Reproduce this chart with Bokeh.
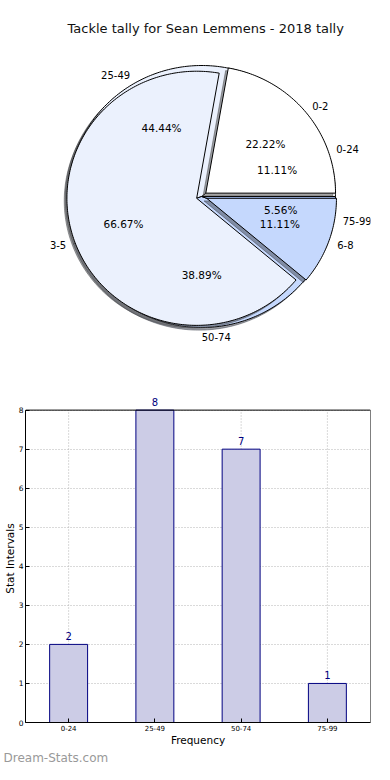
import numpy as np
from bokeh.plotting import figure
from bokeh.layouts import column
from bokeh.models import (Label, ColumnDataSource, FactorRange, Range1d, FixedTicker,
                          BoxAnnotation, Title)
from bokeh.core.properties import value
from bokeh.embed import file_html
from bokeh.resources import INLINE

# ---------------- data ----------------
TITLE = "Tackle tally for Sean Lemmens - 2018 tally"
interval_labels = ["0-24", "25-49", "50-74", "75-99"]
interval_counts = [2, 8, 7, 1]
stat_labels = ["0-2", "3-5", "6-8"]
stat_counts = [4, 12, 2]
y_ticks = [0, 1, 2, 3, 4, 5, 6, 7, 8]
X_LABEL = "Frequency"
Y_LABEL = "Stat Intervals"
WATERMARK = "Dream-Stats.com"

FONT = "DejaVu Sans"
PALETTE = ["#ffffff", "#ebf1fd", "#c5d8fd", "#a9c5fb"]


def shadow_color(hx):
    r, g, b = int(hx[1:3], 16), int(hx[3:5], 16), int(hx[5:7], 16)
    return "#%02x%02x%02x" % (int(r * 0.3), int(g * 0.3), int(b * 0.3))


def pie_geometry(counts, radius, explode):
    c = np.asarray(counts, dtype=float)
    fr = c / c.sum()
    ends = np.cumsum(fr) * 2 * np.pi
    starts = ends - fr * 2 * np.pi
    mids = (starts + ends) / 2
    cx = explode * np.cos(mids)
    cy = explode * np.sin(mids)
    xs, ys = [], []
    for a0, a1, x0, y0 in zip(starts, ends, cx, cy):
        n = max(int((a1 - a0) / (2 * np.pi) * 360), 6)
        t = np.linspace(a0, a1, n)
        xs.append(np.concatenate([[x0], x0 + radius * np.cos(t), [x0]]))
        ys.append(np.concatenate([[y0], y0 + radius * np.sin(t), [y0]]))
    return fr, mids, cx, cy, xs, ys


# pixel mapping of the (elliptical) pie
W1, H1 = 374, 358
CXP, CYP = 191.0, 196.0      # pie centre in figure pixels (from top-left)
RX, RY = 145.0, 131.0        # pixel radii
SH = 0.02                    # shadow offset
LABEL_DIST = 1.07

p = figure(width=W1, height=H1, output_backend="svg", toolbar_location=None,
           x_range=Range1d(-CXP / RX, (W1 - CXP) / RX),
           y_range=Range1d(-(H1 - CYP) / RY, CYP / RY),
           x_axis_location=None, y_axis_location=None,
           min_border=0, outline_line_color=None)
p.grid.visible = False

pies = [
    (interval_labels, interval_counts, 1.0, 0.0),
    (stat_labels, stat_counts, 0.97, 0.04),
]

geo = []
for labels, counts, radius, explode in pies:
    fr, mids, cx, cy, xs, ys = pie_geometry(counts, radius, explode)
    geo.append((labels, radius, fr, mids, cx, cy))
    cols = [PALETTE[i % len(PALETTE)] for i in range(len(counts))]
    scols = [shadow_color(c) for c in cols]
    p.patches([list(x - SH) for x in xs], [list(y - SH) for y in ys],
              fill_color=scols, fill_alpha=0.5, line_color=scols, line_alpha=0.5)
    p.patches([list(x) for x in xs], [list(y) for y in ys],
              fill_color=cols, line_color="black", line_width=1, line_join="miter")

for labels, radius, fr, mids, cx, cy in geo:
    lx = cx + LABEL_DIST * radius * np.cos(mids)
    ly = cy + LABEL_DIST * radius * np.sin(mids)
    left = np.cos(mids) >= -1e-9
    for mask, align in ((left, "left"), (~left, "right")):
        if mask.any():
            p.text(x=list(lx[mask]), y=list(ly[mask]),
                   text=[l for l, m in zip(labels, mask) if m],
                   text_align=align, text_baseline="middle",
                   text_font=value(FONT), text_font_size="10px", text_color="black")
    px = cx + 0.6 * radius * np.cos(mids)
    py = cy + 0.6 * radius * np.sin(mids)
    p.text(x=list(px), y=list(py), text=["%.2f%%" % (f * 100) for f in fr],
           text_align="center", text_baseline="middle",
           text_font=value(FONT), text_font_size="10.5px", text_color="black")

p.add_layout(Label(x=0.0, y=(CYP - 28) / RY, x_offset=4, text=TITLE, text_align="center",
                   text_baseline="middle", text_font=FONT, text_font_size="13px",
                   text_color="#111111"))

# ---------------- bar chart ----------------
W2, H2 = 374, 406
Y_TOP = y_ticks[-1]
pb = figure(width=W2, height=H2, output_backend="svg", toolbar_location=None,
            x_range=FactorRange(*interval_labels, range_padding=0),
            y_range=Range1d(0, Y_TOP + 0.4),
            min_border_left=0, min_border_right=4, min_border_top=36,
            min_border_bottom=0, outline_line_color=None)
pb.xgrid.visible = False
pb.ygrid.grid_line_color = "#b4b4b4"
pb.ygrid.grid_line_dash = "1 2"

# vertical dotted grid lines at the category centres, limited to the axes box
pb.segment(x0=interval_labels, y0=[0] * len(interval_labels),
           x1=interval_labels, y1=[Y_TOP] * len(interval_labels),
           line_color="#b4b4b4", line_dash="1 2", line_width=1)

src = ColumnDataSource(dict(x=interval_labels, top=interval_counts,
                            lbl=[str(c) for c in interval_counts]))
pb.vbar(x="x", top="top", width=0.44, source=src,
        fill_color="#ccccE6", line_color="navy", line_width=1)
pb.text(x="x", y="top", text="lbl", source=src, y_offset=-4,
        text_align="center", text_baseline="bottom", text_color="navy",
        text_font=value(FONT), text_font_size="10px")

# axes box (0..8)
pb.add_layout(BoxAnnotation(left=0, right=len(interval_labels), bottom=0, top=Y_TOP,
                            fill_alpha=0, line_color="black", line_width=1, line_alpha=1))

pb.yaxis.ticker = FixedTicker(ticks=y_ticks)
pb.yaxis.bounds = (0, Y_TOP)
for ax in (pb.xaxis[0], pb.yaxis[0]):
    ax.major_tick_in = 4
    ax.major_tick_out = 0
    ax.minor_tick_line_color = None
    ax.major_label_text_font = FONT
    ax.axis_label_text_font = FONT
    ax.axis_label_text_font_style = "normal"
    ax.axis_label_text_font_size = "10.5px"
    ax.axis_label_text_color = "black"
    ax.major_label_text_color = "black"
    ax.axis_line_color = "black"
    ax.major_label_standoff = 2
    ax.axis_label_standoff = 0
pb.xaxis.axis_label = X_LABEL
pb.yaxis.axis_label = Y_LABEL
pb.xaxis.major_label_text_font_size = "7px"
pb.yaxis.major_label_text_font_size = "7.5px"

pb.add_layout(Title(text=WATERMARK, align="left", offset=-22, standoff=0,
                    text_font=FONT, text_font_size="12px", text_font_style="normal",
                    text_color="#999999"), "below")

layout = column(p, pb)
open("out.html", "w").write(file_html(layout, INLINE))
